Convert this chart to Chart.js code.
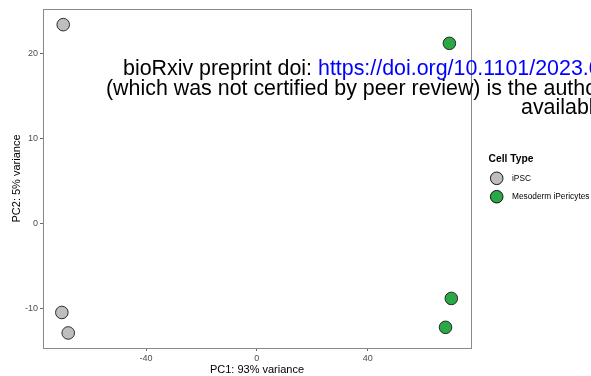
<!DOCTYPE html>
<html>
<head>
<meta charset="utf-8">
<script src="https://cdn.jsdelivr.net/npm/chart.js@4/dist/chart.umd.min.js"></script>
<style>
  html, body { margin: 0; padding: 0; background: #ffffff; }
  #wrap { width: 591px; height: 376px; position: relative; }
</style>
</head>
<body>
<div id="wrap"><canvas id="pca" width="591" height="376"></canvas></div>
<script>
// PCA of samples by cell type
const cellTypes = ["iPSC", "Mesoderm iPericytes"];
const ipscPC1 = [-69.9, -70.4, -68.1];
const ipscPC2 = [23.4, -10.45, -12.86];
const pericytePC1 = [69.5, 70.2, 68.1];
const pericytePC2 = [21.2, -8.8, -12.2];
const xTicks = [-40, 0, 40];
const yTicks = [-10, 0, 10, 20];
const xTitle = "PC1: 93% variance";
const yTitle = "PC2: 5% variance";
const legendTitle = "Cell Type";
const fillColors = ["#bebebe", "#2aa845"];

const toPoints = (xs, ys) => xs.map((x, i) => ({ x: x, y: ys[i] }));

const FONT = "'Liberation Sans', Arial, sans-serif";

// Panel frame, axis titles and legend
const decor = {
  id: "decor",
  beforeDatasetsDraw(chart) {
    const { ctx, chartArea: a } = chart;
    ctx.save();
    ctx.strokeStyle = "#8a8a8a";
    ctx.lineWidth = 1;
    ctx.strokeRect(Math.round(a.left) + 0.5, Math.round(a.top) + 0.5,
                   Math.round(a.right - a.left), Math.round(a.bottom - a.top));
    ctx.restore();
  },
  afterDatasetsDraw(chart) {
    const { ctx, chartArea: a } = chart;
    ctx.save();
    ctx.fillStyle = "#000000";
    ctx.font = "11px " + FONT;
    ctx.textAlign = "center";
    ctx.textBaseline = "alphabetic";
    ctx.fillText(xTitle, (a.left + a.right) / 2, 373);
    ctx.translate(19.5, (a.top + a.bottom) / 2);
    ctx.rotate(-Math.PI / 2);
    ctx.fillText(yTitle, 0, 0);
    ctx.restore();

    // legend
    ctx.save();
    ctx.fillStyle = "#000000";
    ctx.font = "bold 10.3px " + FONT;
    ctx.textAlign = "left";
    ctx.textBaseline = "middle";
    ctx.fillText(legendTitle, 488.5, 159.3);
    chart.data.datasets.forEach((ds, i) => {
      const cy = 178.3 + i * 18.4;
      ctx.beginPath();
      ctx.arc(496.7, cy, 6.3, 0, Math.PI * 2);
      ctx.fillStyle = ds.backgroundColor;
      ctx.fill();
      ctx.lineWidth = 0.9;
      ctx.strokeStyle = "#000000";
      ctx.stroke();
      ctx.fillStyle = "#000000";
      ctx.font = "8.3px " + FONT;
      ctx.fillText(ds.label, 512, cy);
    });
    ctx.restore();
  },
  afterDraw(chart) {
    // preprint header overlay
    const { ctx } = chart;
    ctx.save();
    ctx.font = "21.4px " + FONT;
    ctx.textAlign = "left";
    ctx.textBaseline = "alphabetic";
    const p1 = "bioRxiv preprint doi: ";
    ctx.fillStyle = "#000000";
    ctx.fillText(p1, 123, 75);
    const w1 = ctx.measureText(p1).width;
    ctx.fillStyle = "#0000ff";
    ctx.fillText("https://doi.org/10.1101/2023.0", 123 + w1, 75);
    ctx.fillStyle = "#000000";
    ctx.fillText("(which was not certified by peer review) is the author/funder", 106, 94.5);
    ctx.fillText("available under", 521, 114);
    ctx.restore();
  }
};

new Chart(document.getElementById("pca"), {
  type: "scatter",
  data: {
    datasets: [
      {
        label: cellTypes[0],
        data: toPoints(ipscPC1, ipscPC2),
        backgroundColor: fillColors[0],
        borderColor: "#1a1a1a",
        borderWidth: 0.9,
        pointRadius: 6.3,
        pointHoverRadius: 6.3
      },
      {
        label: cellTypes[1],
        data: toPoints(pericytePC1, pericytePC2),
        backgroundColor: fillColors[1],
        borderColor: "#1a1a1a",
        borderWidth: 0.9,
        pointRadius: 6.3,
        pointHoverRadius: 6.3
      }
    ]
  },
  options: {
    responsive: false,
    animation: false,
    events: [],
    layout: { padding: { left: 0, right: 120, top: 9, bottom: 0 } },
    plugins: { legend: { display: false }, tooltip: { enabled: false } },
    scales: {
      x: {
        type: "linear",
        min: -77.2,
        max: 77.3,
        afterBuildTicks(scale) { scale.ticks = xTicks.map(v => ({ value: v })); },
        afterFit(scale) { scale.height = 28; },
        grid: {
          display: true,
          drawOnChartArea: false,
          drawTicks: true,
          tickLength: 3,
          color: "#444444",
          lineWidth: 0.8
        },
        border: { display: false },
        ticks: {
          color: "#4d4d4d",
          font: { family: FONT, size: 9 },
          padding: 2,
          maxRotation: 0
        }
      },
      y: {
        type: "linear",
        min: -14.63,
        max: 25.24,
        afterBuildTicks(scale) { scale.ticks = yTicks.map(v => ({ value: v })); },
        afterFit(scale) { scale.width = 43; },
        grid: {
          display: true,
          drawOnChartArea: false,
          drawTicks: true,
          tickLength: 3,
          color: "#444444",
          lineWidth: 0.8
        },
        border: { display: false },
        ticks: {
          color: "#4d4d4d",
          font: { family: FONT, size: 9 },
          padding: 2
        }
      }
    }
  },
  plugins: [decor]
});
</script>
</body>
</html>
